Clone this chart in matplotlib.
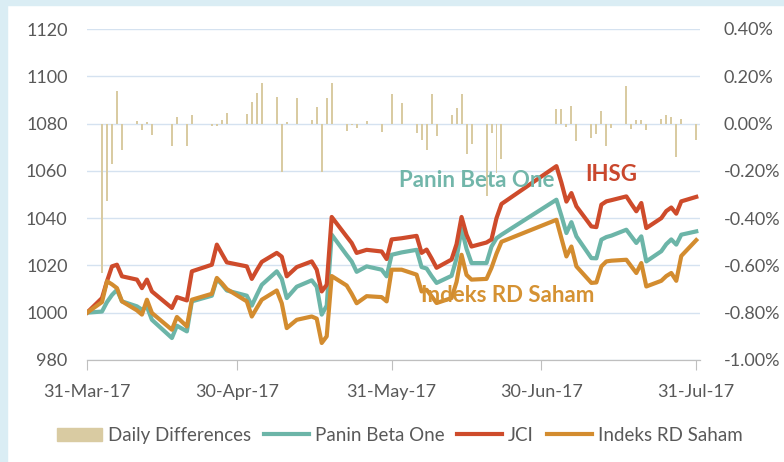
import numpy as np
import pandas as pd
import matplotlib
matplotlib.use("Agg")
import matplotlib.pyplot as plt
import matplotlib.dates as mdates
from matplotlib.ticker import FuncFormatter, MultipleLocator
from matplotlib.patches import Rectangle
from matplotlib.lines import Line2D

plt.rcParams['font.family'] = ['Lato', 'DejaVu Sans']

# trading days as offset from 31-Mar-17
days = [0, 3, 4, 5, 6, 7, 10, 11, 12, 13, 17, 18, 20, 21, 25, 26, 27, 28,
        32, 33, 34, 35, 38, 39, 40, 42, 45, 46, 47, 48, 49, 52, 53, 54, 56,
        59, 60, 61, 63, 66, 67, 68, 69, 70, 73, 74, 75, 76, 77, 80, 81, 82,
        83, 94, 95, 96, 97, 98, 101, 102, 103, 104, 105, 108, 109, 110, 111,
        112, 115, 116, 117, 118, 119, 122]

jci = [1000, 1006.2, 1013.3, 1019.6, 1020.3, 1015.4, 1014, 1010.4, 1014, 1009,
       1002, 1006.6, 1005.2, 1017.5, 1020.3, 1028.8, 1025, 1021.3,
       1019.6, 1014.3, 1018, 1021.5, 1025.3, 1023.7, 1015.4, 1019.3, 1021.7,
       1018.2, 1009, 1011.8, 1040.5, 1032.2, 1029.5, 1025.3, 1026.6,
       1025.9, 1022.7, 1031, 1031.5, 1032.5, 1025.3, 1026.7, 1023, 1019,
       1022.5, 1029, 1040.5, 1033, 1028, 1029.7, 1031, 1040,
       1046, 1062, 1055, 1047, 1050.6, 1045, 1036.5, 1036.2, 1045.7, 1047.1,
       1047.6, 1049.2, 1046, 1042.9, 1046.4,
       1035.8, 1040, 1043, 1044.5, 1041.9, 1047.1, 1049]

panin = [1000, 1000.5, 1004.5, 1007.5, 1009.7, 1004.8, 1002.7, 1001.3, 1002.5, 997,
         989.3, 994.5, 992.1, 1004.8, 1007.2, 1014.3, 1012, 1009.4,
         1007.2, 1003, 1007.5, 1011.8, 1017.5, 1014.3, 1006.2, 1011, 1013.7,
         1011, 999.2, 1003, 1033, 1024.4, 1021.7, 1017.3, 1019.6,
         1018.2, 1015.4, 1024.5, 1025.5, 1026.6, 1019.3, 1018.7, 1015.5, 1012.6,
         1015.6, 1023, 1035.5, 1027, 1021, 1021, 1028, 1031.5,
         1033, 1047.8, 1041, 1033.7, 1038.3, 1032.3, 1023.1, 1023, 1030.9, 1032,
         1032.6, 1035.1, 1032.3, 1029.5, 1032.3,
         1021.7, 1026, 1029, 1031, 1028.8, 1033, 1034.4]

rd_saham = [1000, 1004.5, 1013.3, 1012, 1010.4, 1004.8, 1001, 999.2, 1005.5, 999.9,
            992.8, 998.2, 994.2, 1005.5, 1008, 1014.7, 1012.5, 1010,
            1004.8, 998.4, 1002, 1005.5, 1009.4, 1004, 993.5, 997, 998.4,
            997.5, 987.2, 990, 1015.5, 1011.5, 1008, 1004, 1007,
            1006.6, 1004.8, 1018.2, 1018.2, 1016.1, 1009, 1009.7, 1007, 1004.1,
            1006.2, 1013, 1024.5, 1016, 1014, 1014.3, 1019, 1025,
            1030, 1039.3, 1031.5, 1023.8, 1028, 1019.6, 1012.6, 1012.8, 1019.6, 1021.7,
            1022, 1022.4, 1019.6, 1016.8, 1021,
            1011.1, 1013.5, 1015.5, 1016.8, 1013.5, 1024, 1030.7]

# daily differences in percent
daily_diff = [0, -0.63, -0.328, -0.169, 0.139, -0.113, 0.011, -0.027, 0.007, -0.049,
              -0.094, 0.028, -0.094, 0.037, -0.010, -0.010, 0.015, 0.046,
              0.042, 0.092, 0.130, 0.172, 0.113, -0.204, 0.007, 0.108, 0.014,
              0.069, -0.204, 0.108, 0.172, -0.032, -0.004, -0.018, 0.011,
              -0.037, 0.0, 0.125, 0.087, -0.041, -0.068, -0.113, 0.123, -0.051,
              0.038, 0.066, 0.123, -0.128, -0.085, -0.307, -0.038, -0.207,
              -0.148, 0.063, 0.063, -0.014, 0.073, -0.075, -0.061, -0.044, 0.055, -0.096,
              -0.018, 0.158, -0.023, 0.015, 0.015,
              -0.027, 0.020, 0.038, 0.028, -0.141, 0.021, -0.070]

tick_dates = ['2017-03-31', '2017-04-30', '2017-05-31', '2017-06-30', '2017-07-31']

start = pd.Timestamp('2017-03-31')
dates = [start + pd.Timedelta(days=d) for d in days]

c_jci = '#CE4B2B'
c_panin = '#6CB5A8'
c_rd = '#D38C2F'
c_bar = '#D9CBA2'
c_grid = '#D5E2F0'
c_text = '#595959'
lw = 3.0

fig = plt.figure(figsize=(7.84, 4.62), dpi=100)
fig.patches.append(Rectangle((0, 0), 7 / 784, 1, transform=fig.transFigure,
                             color='#DAEDF4', zorder=-1))
fig.patches.append(Rectangle((0, 1 - 5 / 462), 1, 5 / 462, transform=fig.transFigure,
                             color='#DAEDF4', zorder=-1))

ax = fig.add_axes([87 / 784, 1 - 360 / 462, 613 / 784, 331 / 462])
ax2 = ax.twinx()

# bars on the secondary axis, drawn behind the lines
ax2.bar(dates, daily_diff, width=0.4, color=c_bar, zorder=1)
ax2.set_ylim(-1.0, 0.4)
ax2.yaxis.set_major_locator(MultipleLocator(0.2))
ax2.yaxis.set_major_formatter(FuncFormatter(lambda v, p: '%.2f%%' % v))

ax.set_zorder(ax2.get_zorder() + 1)
ax.patch.set_visible(False)

ax.plot(dates, panin, color=c_panin, lw=lw, solid_joinstyle='round')
ax.plot(dates, jci, color=c_jci, lw=lw, solid_joinstyle='round')
ax.plot(dates, rd_saham, color=c_rd, lw=lw, solid_joinstyle='round')

ax.set_ylim(980, 1120)
ax.yaxis.set_major_locator(MultipleLocator(20))
ax.set_xlim(start, pd.Timestamp('2017-07-31') + pd.Timedelta(hours=18))
ax.set_xticks(pd.to_datetime(tick_dates))
ax.xaxis.set_major_formatter(mdates.DateFormatter('%d-%b-%y'))

for a in (ax, ax2):
    for s in ('top', 'left', 'right'):
        a.spines[s].set_visible(False)
    a.spines['bottom'].set_color('#BFBFBF')
    a.tick_params(colors=c_text, labelsize=13)

ax2.grid(axis='y', color=c_grid, lw=1, zorder=0)
ax2.set_axisbelow(True)
ax.tick_params(axis='y', length=0, pad=14)
ax2.tick_params(axis='y', length=0, pad=17)
ax.tick_params(axis='x', length=7, color='#BFBFBF', pad=10)

ax.text(start + pd.Timedelta(days=78), 1055.8, 'Panin Beta One', color='#72B6AA',
        fontsize=16, fontweight='bold', ha='center', va='center')
ax.text(start + pd.Timedelta(days=105), 1058.4, 'IHSG', color='#C9472D',
        fontsize=16, fontweight='bold', ha='center', va='center')
ax.text(start + pd.Timedelta(days=84.2), 1007.2, 'Indeks RD Saham', color='#D59233',
        fontsize=16, fontweight='bold', ha='center', va='center')

handles = [Rectangle((0, 0), 1, 1, color=c_bar),
           Line2D([], [], color=c_panin, lw=lw),
           Line2D([], [], color=c_jci, lw=lw),
           Line2D([], [], color=c_rd, lw=lw)]
labels = ['Daily Differences', 'Panin Beta One', 'JCI', 'Indeks RD Saham']
fig.legend(handles, labels, loc='center', bbox_to_anchor=(0.51, 0.058), ncol=4,
           frameon=False, fontsize=13.5, labelcolor=c_text, handlelength=2.4,
           handletextpad=0.3, columnspacing=0.7)

fig.savefig('out.png', dpi=100)
